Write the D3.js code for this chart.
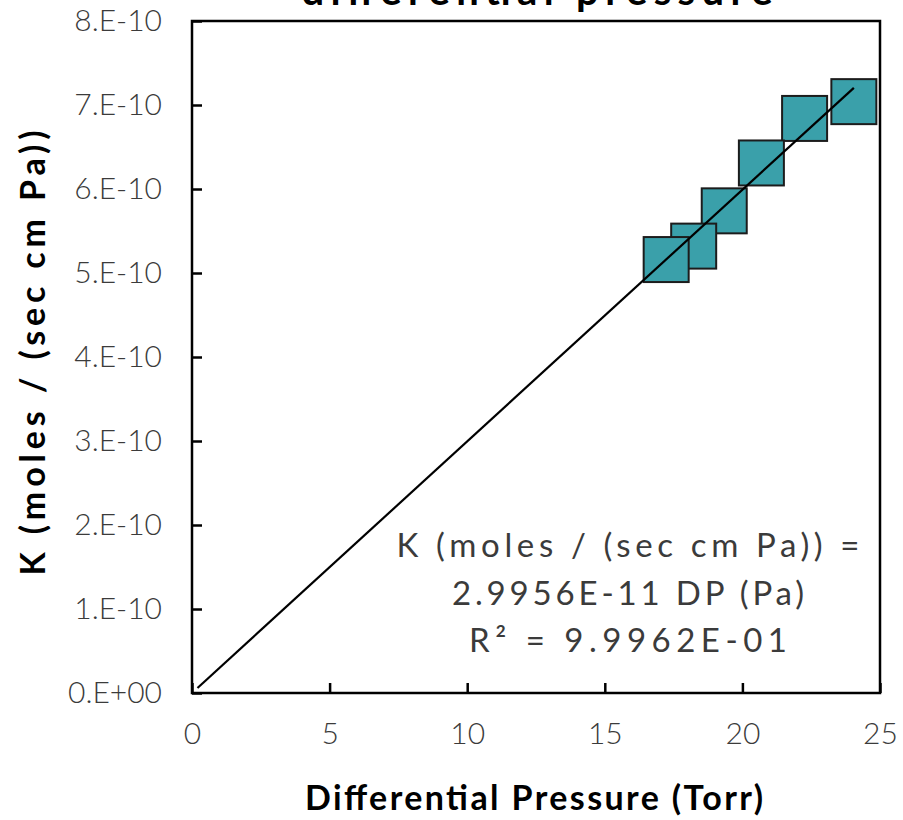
<!DOCTYPE html>
<html>
<head>
<meta charset="utf-8">
<script src="https://cdn.jsdelivr.net/npm/d3@7"></script>
<style>
  html, body { margin: 0; padding: 0; background: #fff; }
  svg { display: block; }
  text { font-family: "Lato", "Open Sans", sans-serif; }
</style>
</head>
<body>
<svg id="chart" width="903" height="820"></svg>
<script>
// Measured permeance K against differential pressure
const pressureTorr = [24.05, 22.26, 20.69, 19.34, 18.23, 17.23];
const permeanceK   = [7.04e-10, 6.84e-10, 6.31e-10, 5.74e-10, 5.32e-10, 5.16e-10];

// Linear fit through the origin
const fitSlope = 2.9956e-11;
const fitStart = 0.2;
const fitLines = ["K (moles / (sec cm Pa)) =", "2.9956E-11 DP (Pa)", "R² = 9.9962E-01"];

// Axis ticks
const xTicks = [0, 5, 10, 15, 20, 25];
const yTicks = [0, 1e-10, 2e-10, 3e-10, 4e-10, 5e-10, 6e-10, 7e-10, 8e-10];
const yTickLabels = ["0.E+00", "1.E-10", "2.E-10", "3.E-10", "4.E-10", "5.E-10", "6.E-10", "7.E-10", "8.E-10"];

const titleText = "differential pressure";
const xTitle = "Differential Pressure (Torr)";
const yTitle = "K (moles / (sec cm Pa))";

const margin = { left: 192, right: 23, top: 21, bottom: 127 };
const W = 903, H = 820;
const svg = d3.select("#chart");

const x = d3.scaleLinear().domain([0, 25]).range([margin.left, W - margin.right]);
const y = d3.scaleLinear().domain([0, 8e-10]).range([H - margin.bottom, margin.top]);

const axisColor = "#000";
const labelColor = "#3b3b3b";

// Stretch a text to a set width by widening its letter spacing
function fitWidth(sel, width) {
  sel.attr("textLength", width).attr("lengthAdjust", "spacing");
}

// X axis (ticks point inward)
const gx = svg.append("g")
  .attr("transform", `translate(0,${y(0)})`)
  .call(d3.axisBottom(x).tickValues(xTicks).tickSizeInner(-10).tickSizeOuter(0).tickPadding(30));
gx.select(".domain").remove();
gx.selectAll(".tick line").attr("stroke", axisColor).attr("stroke-width", 2.5);
gx.selectAll(".tick text")
  .attr("fill", labelColor)
  .style("font-size", "30px")
  .style("font-weight", 300);

// Y axis
const gy = svg.append("g")
  .attr("transform", `translate(${x(0)},0)`)
  .call(d3.axisLeft(y).tickValues(yTicks).tickSizeInner(-10).tickSizeOuter(0).tickPadding(30)
    .tickFormat((d, i) => yTickLabels[i]));
gy.select(".domain").remove();
gy.selectAll(".tick line").attr("stroke", axisColor).attr("stroke-width", 2.5);
gy.selectAll(".tick text")
  .attr("fill", labelColor)
  .style("font-size", "30px")
  .style("font-weight", 300);

// Plot frame
svg.append("rect")
  .attr("x", x(0)).attr("y", y(8e-10))
  .attr("width", x(25) - x(0)).attr("height", y(0) - y(8e-10))
  .attr("fill", "none").attr("stroke", axisColor).attr("stroke-width", 2.5);

// Data markers
const side = 45;
svg.append("g").selectAll("rect")
  .data(pressureTorr.map((p, i) => ({ p, k: permeanceK[i] })))
  .join("rect")
  .attr("x", d => x(d.p) - side / 2)
  .attr("y", d => y(d.k) - side / 2)
  .attr("width", side).attr("height", side)
  .attr("fill", "#3aa0aa")
  .attr("stroke", "#1c1c1c")
  .attr("stroke-width", 2);

// Fit line
const fitEnd = d3.max(pressureTorr);
svg.append("line")
  .attr("x1", x(fitStart)).attr("y1", y(fitSlope * fitStart))
  .attr("x2", x(fitEnd)).attr("y2", y(fitSlope * fitEnd))
  .attr("stroke", "#000").attr("stroke-width", 2.2);

// Fit equation
const fitWidths = [463, 352, 318];
svg.append("g").selectAll("text")
  .data(fitLines)
  .join("text")
  .attr("x", 628)
  .attr("y", (d, i) => 557 + i * 47.5)
  .attr("text-anchor", "middle")
  .attr("fill", labelColor)
  .style("font-size", "33px")
  .style("font-weight", 400)
  .text(d => d)
  .each(function (d, i) { fitWidth(d3.select(this), fitWidths[i]); });

// Title
svg.append("text")
  .attr("x", 537).attr("y", 5)
  .attr("text-anchor", "middle")
  .style("font-size", "40px").style("font-weight", 700)
  .attr("fill", "#000")
  .text(titleText)
  .call(fitWidth, 471);

// Axis titles
svg.append("text")
  .attr("x", 534).attr("y", 810)
  .attr("text-anchor", "middle")
  .style("font-size", "34px").style("font-weight", 700)
  .attr("fill", "#000")
  .text(xTitle)
  .call(fitWidth, 458);

svg.append("text")
  .attr("transform", `translate(45,353) rotate(-90)`)
  .attr("text-anchor", "middle")
  .style("font-size", "34px").style("font-weight", 700)
  .attr("fill", "#000")
  .text(yTitle)
  .call(fitWidth, 445);
</script>
</body>
</html>
